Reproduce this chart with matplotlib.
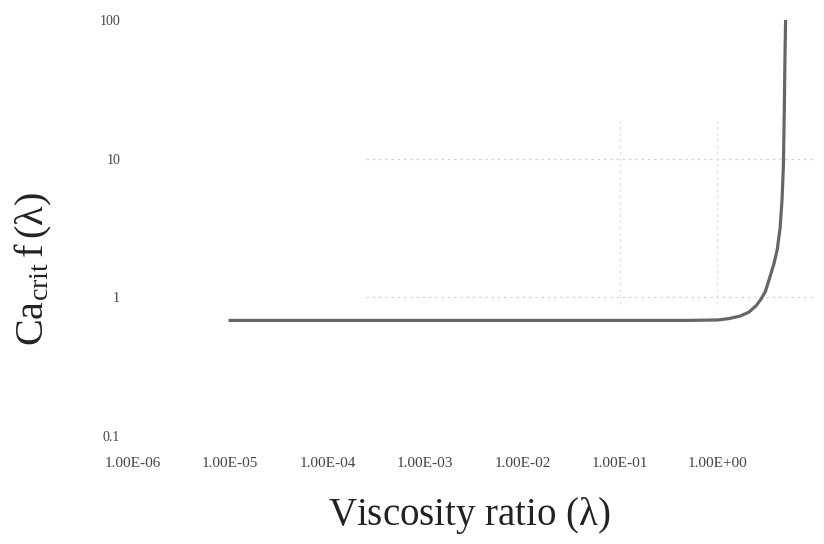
import matplotlib
matplotlib.use("Agg")
import matplotlib.pyplot as plt
from matplotlib.ticker import FixedLocator, FixedFormatter, NullLocator

plt.rcParams['font.family'] = ['Liberation Serif', 'DejaVu Serif']
plt.rcParams['mathtext.fontset'] = 'custom'
plt.rcParams['mathtext.rm'] = 'Liberation Serif'
plt.rcParams['mathtext.it'] = 'Liberation Serif'

# Data
viscosity_ratio = [1e-5, 1e-4, 1e-3, 1e-2, 1e-1, 0.5, 1.0, 1.3, 1.7, 2.1, 2.5,
                   2.8, 3.1, 3.4, 3.8, 4.1, 4.4, 4.6, 4.75, 4.85, 4.92, 5.0]
ca_crit = [0.68, 0.68, 0.68, 0.68, 0.68, 0.68, 0.685, 0.70, 0.73, 0.78, 0.87,
           0.97, 1.1, 1.35, 1.75, 2.2, 3.2, 5.1, 9.0, 23.0, 50.0, 100.0]

x_ticks = [1e-6, 1e-5, 1e-4, 1e-3, 1e-2, 1e-1, 1e0]
x_tick_labels = ["1.00E-06", "1.00E-05", "1.00E-04", "1.00E-03",
                 "1.00E-02", "1.00E-01", "1.00E+00"]
y_ticks = [0.1, 1, 10, 100]
y_tick_labels = ["0.1", "1", "10", "100"]
grid_y = [1, 10]
grid_x = [1e-1, 1e0]

fig = plt.figure(figsize=(8.24, 5.44), dpi=100)
ax = fig.add_axes([0.161, 0.199, 0.828, 0.764])
ax.set_xscale('log')
ax.set_yscale('log')
ax.set_xlim(1e-6, 1e1)
ax.set_ylim(0.1, 100)

# faint dotted grid fragments
ax.hlines(grid_y, 2.5e-4, 1e1, colors='#d4d4d4', linestyles=(0, (2, 3)), lw=0.9, zorder=1)
ax.vlines(grid_x, 0.9, 20, colors='#dedede', linestyles=(0, (2, 3)), lw=0.9, zorder=1)

ax.plot(viscosity_ratio, ca_crit, color='#666666', lw=2.3, zorder=3)

for s in ax.spines.values():
    s.set_visible(False)

ax.xaxis.set_major_locator(FixedLocator(x_ticks))
ax.xaxis.set_major_formatter(FixedFormatter(x_tick_labels))
ax.xaxis.set_minor_locator(NullLocator())
ax.yaxis.set_major_locator(FixedLocator(y_ticks))
ax.yaxis.set_major_formatter(FixedFormatter(y_tick_labels))
ax.yaxis.set_minor_locator(NullLocator())
ax.tick_params(axis='x', length=0, pad=15, labelsize=11, labelcolor='#444444')
ax.tick_params(axis='y', length=0, pad=9, labelsize=10, labelcolor='#444444')

fig.text(0.570, 0.052, r"Viscosity ratio ($\lambda$)", ha='center', va='center',
         fontsize=28, color='#222222')
fig.text(0.040, 0.505, r"$\mathregular{Ca_{crit}\,f\,(\lambda)}$", ha='center', va='center',
         rotation=90, fontsize=29, color='#222222')

fig.savefig("out.png", dpi=100)
